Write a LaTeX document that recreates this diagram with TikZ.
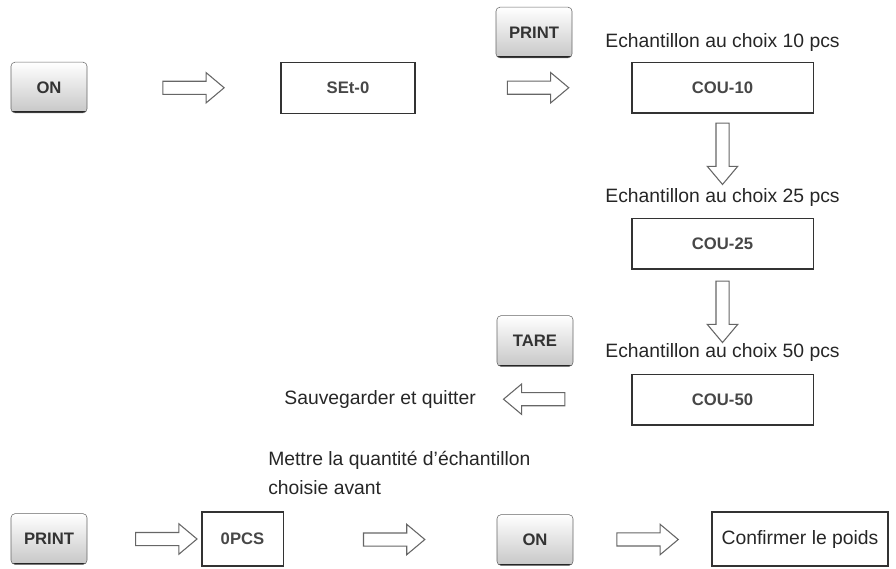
\documentclass[tikz,border=0pt]{standalone}
\usepackage{fontspec}
\setmainfont{Liberation Sans}
\usetikzlibrary{shapes.arrows,positioning}
\tikzset{
  keybtn/.style={draw=black!60,rounded corners=3pt,top color=white,bottom color=black!22,
    font=\bfseries\fontsize{12.5}{14}\selectfont,text=black!80,inner sep=0pt,
    minimum width=57pt,minimum height=38pt,
    path picture={\draw[line width=2.6pt,black!85] (path picture bounding box.south west) -- (path picture bounding box.south east);}},
  lcd/.style={draw=black!80,line width=1pt,fill=white,inner sep=0pt,
    font=\bfseries\fontsize{12.5}{14}\selectfont,text=black!72,minimum height=38pt},
  blockarr/.style={single arrow,draw=black!60,line width=0.8pt,fill=white,inner sep=4.5pt,
    single arrow head extend=6.5pt,single arrow tip angle=80,minimum height=46pt},
  note/.style={font=\fontsize{14.5}{21.75}\selectfont,text=black!85,inner sep=0pt}
}
\begin{document}
\begin{tikzpicture}[x=0.75pt,y=-0.75pt]
\useasboundingbox (0,0) rectangle (896,568);
% top row
\node[keybtn] (on) at (49,87.5) {ON};
\node[lcd,minimum width=100.5pt] (set) at (348,88) {SEt-0};
\node[keybtn] (print) at (534,32.5) {PRINT};
\node[lcd,minimum width=136pt] (cou10) at (722.5,87.5) {COU-10};
\node[note] (t10) at (722.5,42) {Echantillon au choix 10 pcs};
% right column
\node[note] (t25) at (722.5,197) {Echantillon au choix 25 pcs};
\node[lcd,minimum width=136pt] (cou25) at (722.5,243.5) {COU-25};
\node[note] (t50) at (722.5,352) {Echantillon au choix 50 pcs};
\node[lcd,minimum width=136pt] (cou50) at (722.5,399.5) {COU-50};
\node[keybtn] (tare) at (535,341) {TARE};
\node[note,anchor=east] (save) at (476,399) {Sauvegarder et quitter};
% bottom row
\node[note,anchor=north west,align=left] (hint) at (268,451) {Mettre la quantit\'e d'\'echantillon\\choisie avant};
\node[keybtn] (print2) at (49,539) {PRINT};
\node[lcd,minimum width=61pt,minimum height=40.5pt] (pcs) at (242.5,539) {0PCS};
\node[keybtn] (on2) at (535,540) {ON};
\node[lcd,minimum width=132pt,minimum height=40.5pt,font=\fontsize{14.5}{17}\selectfont,text=black!85] (conf) at (800,539) {Confirmer le poids};
% arrows
\path (on.east) -- (set.west) node[blockarr,pos=.53]{};
\path (set.east) -- (cou10.west) node[blockarr,pos=.55]{};
\path (cou10.south) -- (cou25.north) node[blockarr,pos=.35,rotate=-90]{};
\path (cou25.south) -- (cou50.north) node[blockarr,pos=.37,rotate=-90]{};
\path (cou50.west) -- (save.east) node[blockarr,pos=.6,rotate=180]{};
\path (print2.east) -- (pcs.west) node[blockarr,pos=.66]{};
\path (pcs.east) -- (on2.west) node[blockarr,pos=.5]{};
\path (on2.east) -- (conf.west) node[blockarr,pos=.51]{};
\end{tikzpicture}
\end{document}
